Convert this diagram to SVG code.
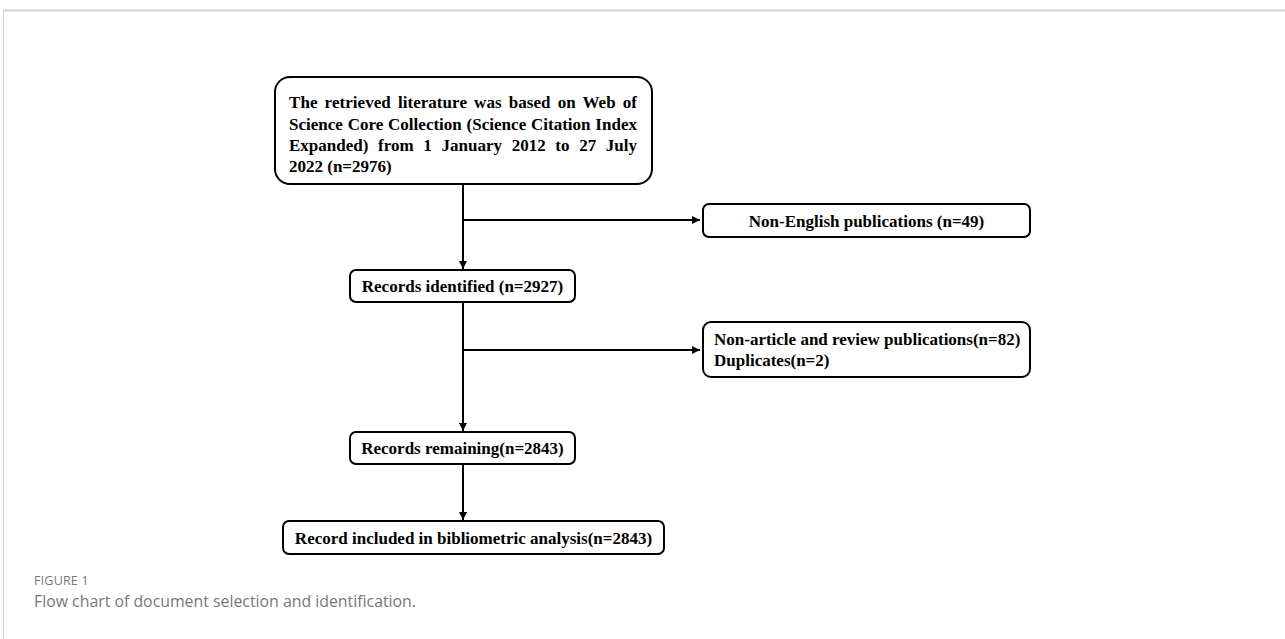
<svg xmlns="http://www.w3.org/2000/svg" width="1285" height="639" viewBox="0 0 1285 639">
<defs>
<style>
.box{fill:#fff;stroke:#000;stroke-width:2}
.t{font-family:"Liberation Serif","Times New Roman",serif;font-weight:bold;font-size:17px;fill:#000}
.c{text-anchor:middle}
.ln{stroke:#000;stroke-width:2;fill:none}
.cap{font-family:"Open Sans","Noto Sans",sans-serif;fill:#777}
</style>
<marker id="ah" viewBox="0 0 10 10" refX="10" refY="5" markerWidth="8" markerHeight="8" markerUnits="userSpaceOnUse" orient="auto">
<path d="M0,0 L10,5 L0,10 z" fill="#000"/>
</marker>
</defs>
<rect width="1285" height="639" fill="#fff"/>
<line x1="3" y1="10.5" x2="1285" y2="10.5" stroke="#d0d0d0" stroke-width="2"/>
<line x1="3.5" y1="10" x2="3.5" y2="639" stroke="#d0d0d0" stroke-width="1"/>

<g id="connectors">
<line class="ln" x1="463" y1="184" x2="463" y2="269" marker-end="url(#ah)"/>
<line class="ln" x1="463" y1="220" x2="700" y2="220" marker-end="url(#ah)"/>
<line class="ln" x1="463" y1="302" x2="463" y2="431" marker-end="url(#ah)"/>
<line class="ln" x1="463" y1="350" x2="700" y2="350" marker-end="url(#ah)"/>
<line class="ln" x1="463" y1="464" x2="463" y2="520" marker-end="url(#ah)"/>
</g>

<g id="n1">
<rect class="box" x="275" y="77" width="377" height="107" rx="15"/>
<text class="t" x="289" y="108" textLength="348" lengthAdjust="spacing" word-spacing="2.8">The retrieved literature was based on Web of</text>
<text class="t" x="289" y="129.5" textLength="348" lengthAdjust="spacing" word-spacing="0.5">Science Core Collection (Science Citation Index</text>
<text class="t" x="289" y="151" textLength="348" lengthAdjust="spacing" word-spacing="5.4">Expanded) from 1 January 2012 to 27 July</text>
<text class="t" x="289" y="172">2022 (n=2976)</text>
</g>

<g id="n2">
<rect class="box" x="703" y="204" width="327" height="33" rx="6"/>
<text class="t c" x="866.5" y="226.5">Non-English publications (n=49)</text>
</g>

<g id="n3">
<rect class="box" x="350" y="270" width="225" height="32" rx="6"/>
<text class="t c" x="462.5" y="292">Records identified (n=2927)</text>
</g>

<g id="n4">
<rect class="box" x="703" y="322" width="327" height="55" rx="8"/>
<text class="t" x="714" y="345">Non-article and review publications(n=82)</text>
<text class="t" x="714" y="366">Duplicates(n=2)</text>
</g>

<g id="n5">
<rect class="box" x="350" y="432" width="225" height="32" rx="6"/>
<text class="t c" x="462.5" y="454">Records remaining(n=2843)</text>
</g>

<g id="n6">
<rect class="box" x="283" y="521" width="381" height="33" rx="6"/>
<text class="t c" x="473.5" y="543.5">Record included in bibliometric analysis(n=2843)</text>
</g>

<g id="caption">
<text class="cap" x="34" y="585" font-size="12.5" letter-spacing="0.2">FIGURE 1</text>
<text class="cap" x="34" y="607" font-size="16" textLength="382" lengthAdjust="spacingAndGlyphs">Flow chart of document selection and identification.</text>
</g>
</svg>
